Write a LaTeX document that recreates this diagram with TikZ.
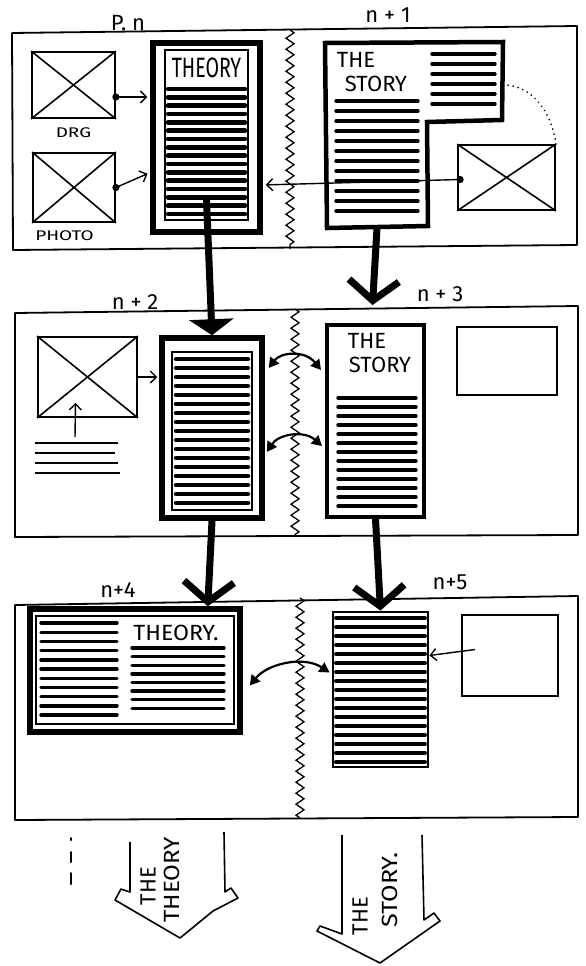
\documentclass[tikz,border=0pt]{standalone}
\usepackage{fontspec}
\setmainfont{Fira Sans}
\usepackage{tikz}
\usetikzlibrary{positioning,arrows.meta,decorations.pathmorphing,calc}
\tikzset{
  pageframe/.style={draw=black, line width=1.8pt, line join=round},
  spine/.style    ={draw=black, line width=1.3pt, decorate,
                    decoration={zigzag, segment length=11pt, amplitude=4pt}},
  colout/.style   ={rectangle, draw=black, line width=5.5pt, fill=white, inner sep=0pt},
  colin/.style    ={rectangle, draw=black, line width=1.8pt, inner sep=0pt},
  imgbox/.style   ={rectangle, draw=black, line width=1.8pt, inner sep=0pt},
  cross/.style    ={line width=1.6pt},
  txt/.style      ={line width=3.4pt, line cap=round},
  hand/.style     ={font=\fontsize{22}{22}\selectfont, inner sep=0pt},
  lbl/.style      ={font=\fontsize{22}{22}\selectfont, inner sep=0pt},
  piclbl/.style   ={font=\fontsize{14}{14}\selectfont, inner sep=0pt, xscale=1.35},
  thinarr/.style  ={-{Straight Barb[length=6pt, width=12pt]}, line width=1.4pt},
  bigarr/.style   ={-{Straight Barb[length=20pt, width=50pt]}, line width=7pt},
  dblarr/.style   ={{Triangle[length=10pt, width=11pt]}-{Triangle[length=10pt, width=11pt]},
                    line width=2.2pt},
}

\begin{document}
\begin{tikzpicture}[x=1pt, y=-1pt,
  bigfill/.style={-{Triangle[length=16pt, width=44pt]}, line width=7pt}]
  \useasboundingbox (0,0) rectangle (586,966);

  \draw[pageframe] (12,33) -- (577,26) -- (577,245) -- (13,250) -- cycle;
  \draw[spine] (290,30) -- (290,249);
  \node[lbl] (pn) at (128,23) {P. n};
  \node[lbl] (pn1) at (388,15) {n + 1};

  \node[imgbox, minimum width=83pt, minimum height=66pt] (drg) at (73.5,85) {};
  \draw[cross] (drg.north west) -- (drg.south east) (drg.north east) -- (drg.south west);
  \node[piclbl, below=9pt of drg] (drglbl) {DRG};
  \node[imgbox, minimum width=82pt, minimum height=69pt] (photo) at (74,187.5) {};
  \draw[cross] (photo.north west) -- (photo.south east) (photo.north east) -- (photo.south west);
  \node[piclbl, below=8pt of photo, xshift=-7pt] (photolbl) {PHOTO};

  \node[colout, minimum width=107pt, minimum height=189pt] (th1) at (206.5,137.5) {};
  \node[colin, minimum width=83pt, minimum height=170pt] (th1in) at (206.5,135) {};
  \node[hand, font=\fontsize{28}{28}\selectfont, xscale=0.7] (th1hd) at (206.5,68) {THEORY};
  \foreach \k in {0,...,15}{\draw[txt, line width=4.5pt] (168,{89+8.33*\k}) -- (245,{89+8.33*\k});}

  \draw[line width=4.5pt, line join=miter] (325,43) -- (503,42) -- (502,120) -- (427,122)
    -- (428,226) -- (327,228) -- cycle;
  \coordinate (st1b) at (377,228);
  \node[hand] (st1the) at (356,60) {THE};
  \node[hand] (st1sty) at (376,84) {STORY};
  \foreach \k in {0,...,5}{\draw[txt] (432,{54+10*\k}) -- (495,{54+10*\k});}
  \foreach \k in {0,...,11}{\draw[txt] (336,{101+10*\k}) -- (418,{101+10*\k});}

  \node[imgbox, minimum width=97pt, minimum height=65pt] (pic1) at (506.5,177.5) {};
  \draw[cross] (pic1.north west) -- (pic1.south east) (pic1.north east) -- (pic1.south west);
  \draw[line width=1.8pt, line cap=round, dash pattern=on 0.1pt off 5pt]
    (pic1.north east) .. controls (552,112) and (532,86) .. (505,85);

  \coordinate (d1) at ($(drg.east)+(0,12)$);
  \coordinate (d2) at (photo.east);
  \coordinate (d3) at ($(pic1.west)+(3,2)$);
  \foreach \n in {d1,d2,d3}{\fill (\n) circle (3.6pt);}
  \draw[thinarr, shorten >=3pt] (d1) -- (th1.west |- d1);
  \draw[thinarr, shorten >=3pt] (d2) -- ($(th1.west)+(0,35)$);
  \draw[thinarr, shorten >=3pt] (d3) -- ($(th1.east)+(0,47.5)$);

  \draw[pageframe] (15,313) -- (578,306) -- (578,535) -- (15,537) -- cycle;
  \draw[spine] (295,309) -- (295,536);
  \node[lbl] (pn2) at (135,302) {n + 2};
  \node[lbl] (pn3) at (440,294) {n + 3};

  \node[imgbox, minimum width=99pt, minimum height=80pt] (img2) at (87.5,377) {};
  \draw[cross] (img2.north west) -- (img2.south east) (img2.north east) -- (img2.south west);
  \foreach \k/\e in {0/118,1/115,2/118,3/120}{\draw[line width=2.6pt] (35,{443+10*\k}) -- (\e,{443+10*\k});}
  \coordinate (cap2) at (75,437);
  \draw[thinarr] (cap2) -- ($(img2.south)+(-12,-15)$);

  \node[colout, minimum width=100pt, minimum height=180pt] (th2) at (212,428) {};
  \node[colin, minimum width=80pt, minimum height=158pt] (th2in) at (212,431) {};
  \foreach \k in {0,...,16}{\draw[txt, line width=4.5pt] (176,{359+9*\k}) -- (248,{359+9*\k});}
  \draw[thinarr, shorten >=2pt] (img2.east) -- (th2.west |- img2.east);

  \node[colout, line width=4pt, minimum width=97pt, minimum height=192pt] (st2) at (375.5,421) {};
  \node[hand] (st2the) at (367,341) {THE};
  \node[hand] (st2sty) at (380,365) {STORY};
  \foreach \k in {0,...,12}{\draw[txt] (338,{398+9*\k}) -- (416,{398+9*\k});}
  \node[imgbox, line width=2.5pt, minimum width=100pt, minimum height=68pt] (box3) at (507,361) {};

  \draw[dblarr] ($(th2.east)+(4,-60)$) .. controls +(12,-16) and +(-16,-20) .. ($(st2.west)+(-4,-51)$);
  \draw[dblarr] ($(th2.east)+(2,24)$) .. controls +(12,-18) and +(-18,-16) .. ($(st2.west)+(-3,25)$);

  \draw[pageframe] (15,605) -- (578,596) -- (578,817) -- (15,820) -- cycle;
  \draw[spine] (300,598) -- (300,818);
  \node[lbl] (pn4) at (118,590) {n+4};
  \node[lbl] (pn5) at (450,582) {n+5};

  \node[colout, minimum width=210pt, minimum height=123pt] (th3) at (135,670.5) {};
  \node[colin, line width=1.4pt, minimum width=198pt, minimum height=108pt] (th3in) at (135,670) {};
  \node[hand, xscale=1.05] (th3hd) at (176,633) {THEORY.};
  \foreach \k in {0,...,10}{\draw[txt] (41,{623+9.2*\k}) -- (117,{623+9.2*\k});}
  \foreach \k in {0,...,7}{\draw[txt] (132,{648+8.6*\k}) -- (224,{648+8.6*\k});}

  \node[colout, line width=2.8pt, minimum width=95pt, minimum height=155pt] (st3) at (380.5,689.5) {};
  \foreach \k in {0,...,16}{\draw[txt, line width=4pt] (336,{618+9*\k}) -- (425,{618+9*\k});}
  \node[imgbox, minimum width=96pt, minimum height=81pt] (box5) at (510,655.5) {};
  \draw[thinarr] ($(box5.west)+(14,-6)$) -- ($(st3.east)+(0,-34)$);
  \draw[dblarr] ($(th3.east)+(7,15)$) .. controls +(18,-22) and +(-26,-17) .. ($(st3.west)+(-2,-17)$);

  \draw[bigfill] ($(th1.center)+(0,62)$) -- (th2.north);
  \draw[bigarr] (st1b) -- ($(st2.north)+(-3,-18)$);
  \draw[bigarr] (th2.south) -- ($(th3.north east)+(-35,0)$);
  \draw[bigarr] (st2.south) -- (st3.north);

  \draw[line width=2pt, line cap=round] (71,838) -- (71,840) (71,852) -- (71,862) (71,873) -- (71,884);
  \draw[line width=1.6pt, line join=round] (130,842) -- (130,892) -- (121,889) -- (115,900)
    -- (180,938) -- (213,911) -- (238,898) -- (231,888) -- (225,892) -- (224,832);
  \node[hand, rotate=90] (arthe1) at (148,886) {THE};
  \node[hand, rotate=90, xscale=1.1] (artheory) at (172,880) {THEORY};
  \draw[line width=1.6pt, line join=round] (342,835) -- (342,934) -- (320,926) -- (317,931)
    -- (380,963) -- (440,921) -- (434,913) -- (424,920) -- (422,835);
  \node[hand, rotate=90] (arthe2) at (360,916) {THE};
  \node[hand, rotate=90, xscale=1.15] (arstory) at (390,890) {STORY.};
\end{tikzpicture}
\end{document}
